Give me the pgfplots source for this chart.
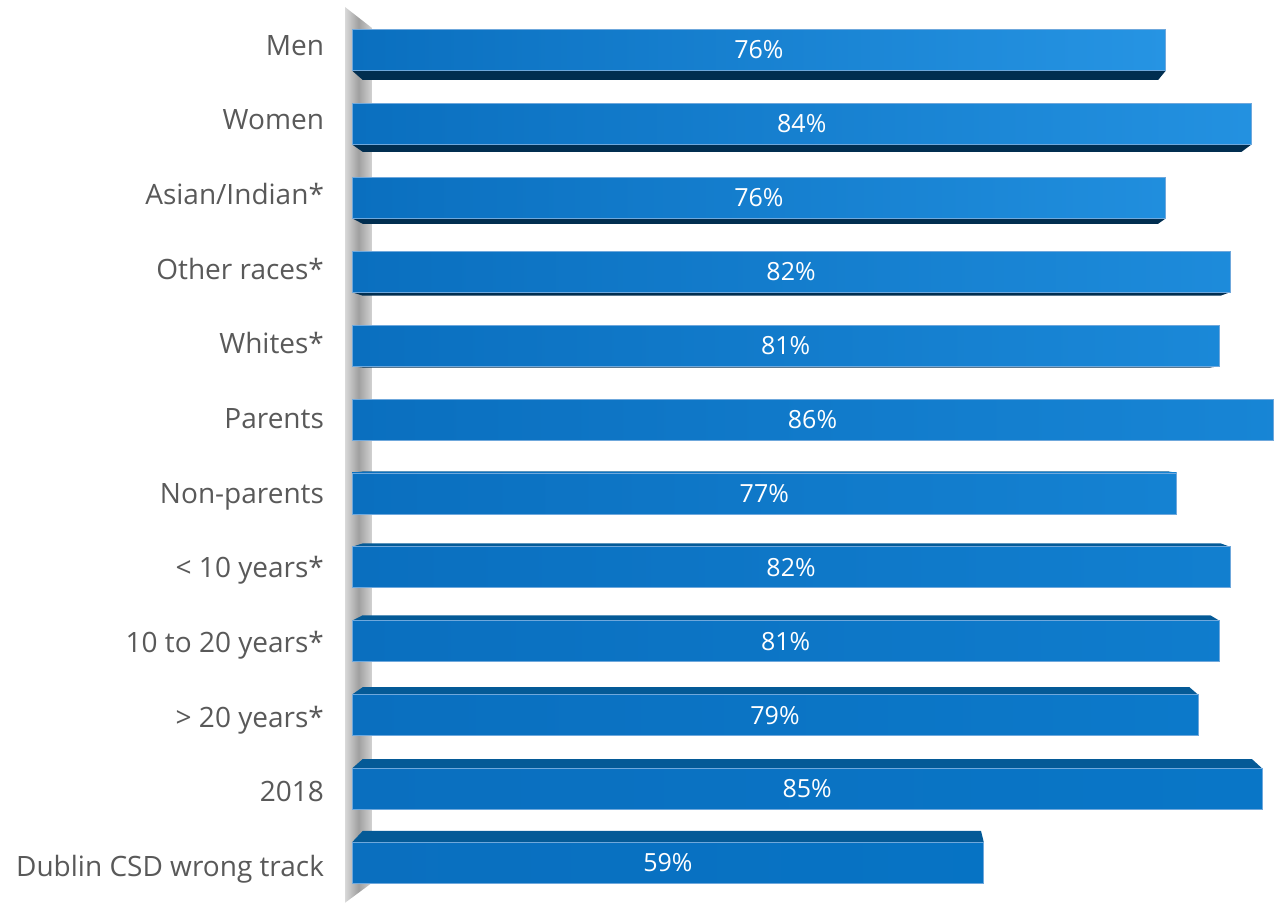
\documentclass[border=0pt]{standalone}
\usepackage{pgfplots}
\pgfplotsset{compat=1.18}
\usepackage{pgfplotstable}
\usepackage{fontspec}
\setmainfont{Open Sans}
\definecolor{labelgray}{HTML}{595959}
\definecolor{faceL}{HTML}{0A6FBF}
\definecolor{faceRtop}{HTML}{2694E3}
\definecolor{faceRbot}{HTML}{0673C4}
\definecolor{edgeDark}{HTML}{012E50}
\definecolor{edgeTop}{HTML}{045A97}
\definecolor{faceLine}{HTML}{6FA8DC}

\pgfplotstableread{
idx val
0 76
1 84
2 76
3 82
4 81
5 86
6 77
7 82
8 81
9 79
10 85
11 59
}\data

\begin{document}
\begin{tikzpicture}
\begin{axis}[name=ax, scale only axis, width=640.5pt, height=452.5pt,
  xmin=-32.87, xmax=86.75, ymin=-0.677, ymax=11.57, y dir=reverse,
  /pgf/number format/assume math mode=true,
  axis line style={draw=none}, xtick=\empty, major tick length=0pt,
  ytick={-0.054,0.957,1.968,2.978,3.989,5.000,6.011,7.022,8.032,9.043,10.054,11.065},
  yticklabels={Men,Women,Asian/Indian*,Other races*,Whites*\hspace{0.3em},Parents,Non-parents,{< 10 years*},10 to 20 years*,{> 20 years*},2018,Dublin CSD wrong track},
  yticklabel style={anchor=base east, xshift=165.5pt, yshift=-4.5pt, font=\fontsize{14}{16}\selectfont, text=labelgray},
  clip=false]

% grey wall
\addplot[draw=none, left color=gray!30, right color=gray!35, middle color=gray!75]
  coordinates {(-0.654,-0.582) (1.868,-0.298) (1.868,11.27) (-0.654,11.54)} -- cycle;

% bottom faces (upper rows)
\pgfplotsinvokeforeach{0,...,4}{
  \pgfplotstablegetelem{#1}{val}\of\data
  \pgfmathsetmacro\v{\pgfplotsretval}
  \pgfmathsetmacro\ya{#1+0.2774}
  \pgfmathsetmacro\yb{\ya+0.027*(5-\ya)}
  \pgfmathsetmacro\xr{\v+0.027*(49.3-\v)}
  \pgfmathsetmacro\xl{0.027*49.3*0.75}
  \addplot[draw=none, fill=edgeDark] coordinates {(0,\ya) (\v,\ya) (\xr,\yb) (\xl,\yb)} -- cycle;
}
% top faces (lower rows)
\pgfplotsinvokeforeach{6,...,11}{
  \pgfplotstablegetelem{#1}{val}\of\data
  \pgfmathsetmacro\v{\pgfplotsretval}
  \pgfmathsetmacro\ya{#1-0.2774}
  \pgfmathsetmacro\yb{\ya+0.027*(5-\ya)}
  \pgfmathsetmacro\xr{\v+0.027*(49.3-\v)}
  \pgfmathsetmacro\xl{0.027*49.3*0.75}
  \addplot[draw=none, fill=edgeTop] coordinates {(0,\ya) (\v,\ya) (\xr,\yb) (\xl,\yb)} -- cycle;
}
% front faces
\pgfplotsinvokeforeach{0,...,11}{
  \pgfplotstablegetelem{#1}{val}\of\data
  \pgfmathsetmacro\v{\pgfplotsretval}
  \addplot[xbar, bar width=0.555, bar shift=0pt, draw=faceLine, line width=0.4pt,
    left color=faceL, right color=faceRtop!\the\numexpr100-9*#1\relax!faceRbot]
    coordinates {(\v,#1)};
}
% value labels
\addplot[draw=none, mark=none, point meta=explicit,
  nodes near coords={\pgfmathprintnumber[fixed,precision=0]{\pgfplotspointmeta}\%},
  every node near coord/.append style={anchor=center, text=white, font=\fontsize{12.5}{15}\selectfont}]
  table[x expr=\thisrow{val}/2, y=idx, meta=val]{\data};
\end{axis}
\pgfresetboundingbox
\useasboundingbox (ax.south west) rectangle (ax.north east);
\end{tikzpicture}
\end{document}
